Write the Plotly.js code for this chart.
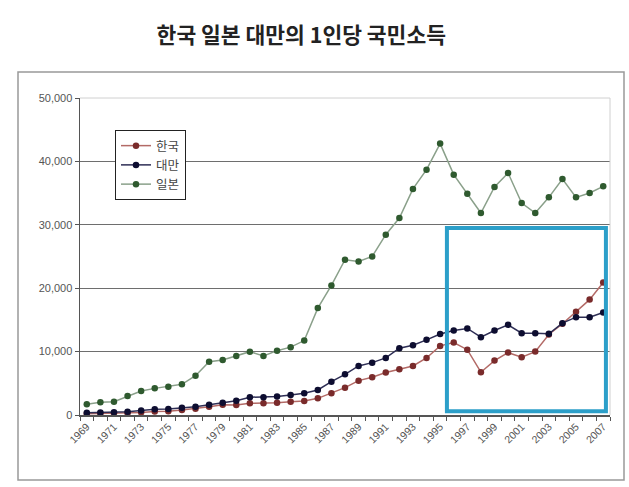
<!DOCTYPE html>
<html>
<head>
<meta charset="utf-8">
<script src="https://cdn.plot.ly/plotly-3.0.1.min.js"></script>
<style>html,body{margin:0;padding:0;background:#fff;}#chart{width:629px;height:487px;}</style>
</head>
<body>
<div id="chart"></div>
<script>
const years = [1969,1970,1971,1972,1973,1974,1975,1976,1977,1978,1979,1980,
  1981,1982,1983,1984,1985,1986,1987,1988,1989,1990,
  1991,1992,1993,1994,1995,1996,1997,1998,1999,2000,
  2001,2002,2003,2004,2005,2006,2007];
const korea = [210,250,290,320,400,540,590,800,1000,1300,1600,1580,
  1850,1850,1950,2100,2210,2630,3430,4310,5420,5950,
  6700,7220,7740,9000,10900,11420,10300,6750,8580,9840,
  9110,10000,12700,14400,16300,18200,20900];
const taiwan = [360,390,440,520,700,900,950,1130,1300,1600,1950,2260,
  2800,2800,2900,3160,3430,3950,5260,6420,7740,8260,
  9000,10530,11000,11850,12780,13320,13650,12280,13320,14220,
  12900,12900,12800,14490,15430,15430,16160];
const japan = [1690,2000,2100,3000,3790,4200,4470,4840,6200,8400,8670,9300,
  9990,9300,10150,10700,11740,16860,20430,24490,24220,25010,
  28440,31070,35660,38700,42810,37910,34910,31860,35970,38180,
  33440,31860,34330,37230,34330,35020,36070];
const seriesNames = ['한국','대만','일본'];
const tickYears = [1969,1971,1973,1975,1977,1979,1981,1983,1985,1987,1989,1991,1993,1995,1997,1999,2001,2003,2005,2007];

function tr(name, y, lineColor, markerColor){
  return {x: years, y: y, name: name, type:'scatter', mode:'lines+markers',
    line:{color: lineColor, width:1.5},
    marker:{color: markerColor, size:6.5, symbol:'circle'}};
}
const data = [
  tr(seriesNames[0], korea, '#b36a66', '#7a2b2b'),
  tr(seriesNames[1], taiwan, '#2e2e55', '#0d0d30'),
  tr(seriesNames[2], japan, '#8aa08a', '#2f5a2f')
];

const L=80, R=610, T=98, B=415;
const px = v => (v-L)/(R-L);
const py = v => (B-v)/(B-T);

const layout = {
  width:629, height:487,
  margin:{l:L, r:629-R, t:T, b:487-B, pad:0},
  paper_bgcolor:'#fff', plot_bgcolor:'#fff',
  font:{family:'Liberation Sans, Arial, sans-serif', color:'#555'},
  title:{text:'한국 일본 대만의 1인당 국민소득', x:0.479, xanchor:'center', y:1-35/487, yanchor:'middle',
    font:{family:'Noto Sans CJK KR', size:21.5, color:'#222', weight:'bold'}},
  showlegend:true,
  legend:{x:px(115), y:py(130), xanchor:'left', yanchor:'top', bordercolor:'#222', borderwidth:1,
    bgcolor:'#fff', font:{family:'Noto Sans CJK KR', size:12.5, color:'#444'}, tracegroupgap:0, itemwidth:30},
  xaxis:{type:'linear', range:[1968.5,2007.5], tickvals:tickYears, ticktext:tickYears.map(String),
    tickangle:-45, ticks:'', showgrid:false, zeroline:false,
    showline:true, linecolor:'#555', linewidth:1.5,
    tickfont:{size:10.5, color:'#555'},
    minor:{tick0:1968.5, dtick:1, ticks:'outside', ticklen:4, tickcolor:'#555', showgrid:false}},
  yaxis:{range:[0,50000], dtick:10000, tickformat:',d', ticks:'outside', ticklen:4, tickcolor:'#555',
    showgrid:true, gridcolor:'#6e6e6e', gridwidth:1, zeroline:false,
    showline:true, linecolor:'#555', linewidth:1.5, tickfont:{size:11, color:'#555'}},
  shapes:[
    {type:'line', xref:'paper', yref:'paper', x0:0, x1:1, y0:1, y1:1, line:{color:'#d0d0d0', width:1}},
    {type:'line', xref:'paper', yref:'paper', x0:1, x1:1, y0:0, y1:1, line:{color:'#d0d0d0', width:1}},
    {type:'rect', xref:'paper', yref:'paper', x0:px(18), x1:px(624), y0:py(480), y1:py(72), line:{color:'#999', width:1.5}},
    {type:'rect', xref:'x', yref:'y', x0:1995.5, x1:2007.2, y0:600, y1:29500, line:{color:'#2c9fc9', width:4}, layer:'above'}
  ]
};
Plotly.newPlot('chart', data, layout, {displayModeBar:false, staticPlot:true});
</script>
</body>
</html>
